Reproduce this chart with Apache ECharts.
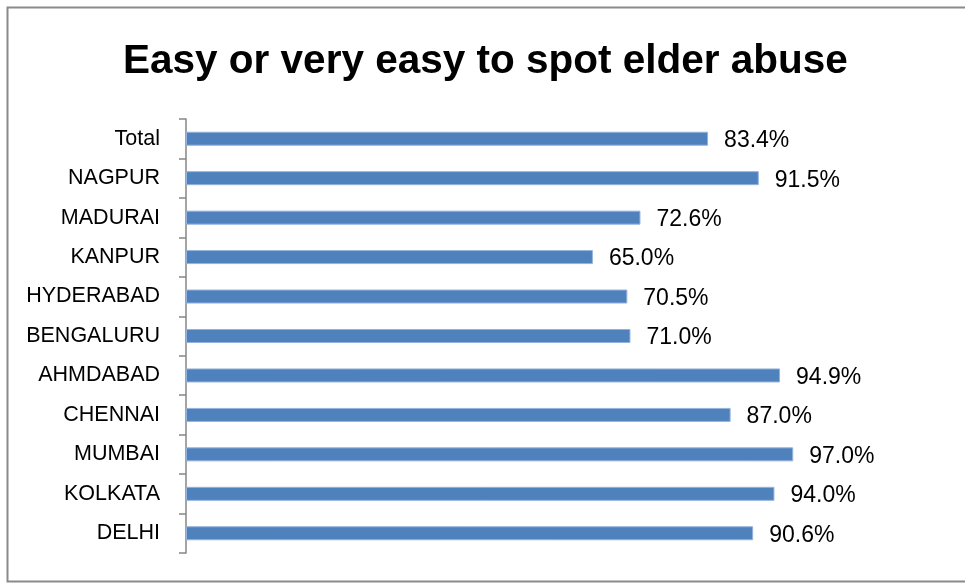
<!DOCTYPE html>
<html>
<head>
<meta charset="utf-8">
<script src="https://cdn.jsdelivr.net/npm/echarts@6/dist/echarts.min.js"></script>
<style>
  html, body { margin: 0; padding: 0; background: #fff; }
  #chart { width: 965px; height: 584px; }
</style>
</head>
<body>
<div id="chart"></div>
<script>
// Share of respondents finding elder abuse easy or very easy to spot, by city
const cities = ['Total', 'NAGPUR', 'MADURAI', 'KANPUR', 'HYDERABAD', 'BENGALURU',
                'AHMDABAD', 'CHENNAI', 'MUMBAI', 'KOLKATA', 'DELHI'];
const sharePct = [83.4, 91.5, 72.6, 65.0, 70.5, 71.0, 94.9, 87.0, 97.0, 94.0, 90.6];
const chartTitle = 'Easy or very easy to spot elder abuse';

const font = '"Liberation Sans", Arial, sans-serif';
const chart = echarts.init(document.getElementById('chart'), null, { renderer: 'canvas' });

chart.setOption({
  animation: false,
  backgroundColor: '#ffffff',
  title: {
    text: chartTitle,
    left: 118,
    top: 36,
    textStyle: { fontFamily: font, fontSize: 40.5, fontWeight: 'bold', color: '#000' }
  },
  graphic: [{
    type: 'rect',
    shape: { x: 7.5, y: 7.5, width: 970, height: 574 },
    style: { fill: 'none', stroke: '#8a8a8a', lineWidth: 2 },
    silent: true
  }],
  grid: { left: 186, top: 119, bottom: 31, right: 153, containLabel: false },
  xAxis: {
    type: 'value',
    min: 0,
    max: 100,
    show: false
  },
  yAxis: {
    type: 'category',
    inverse: true,
    data: cities,
    axisLine: { show: true, lineStyle: { color: '#868686', width: 1.5 } },
    axisTick: { show: true, alignWithLabel: false, length: 7, lineStyle: { color: '#868686', width: 1.5 } },
    axisLabel: { fontFamily: font, fontSize: 21.5, color: '#000', margin: 26 },
    splitLine: { show: false }
  },
  series: [{
    type: 'bar',
    data: sharePct,
    barWidth: 14,
    itemStyle: { color: '#4F81BD', borderColor: '#93B3DB', borderWidth: 1 },
    label: {
      show: true,
      position: 'right',
      distance: 16,
      fontFamily: font,
      fontSize: 23,
      color: '#000',
      offset: [0, 2],
      formatter: p => p.value.toFixed(1) + '%'
    }
  }]
});
</script>
</body>
</html>
